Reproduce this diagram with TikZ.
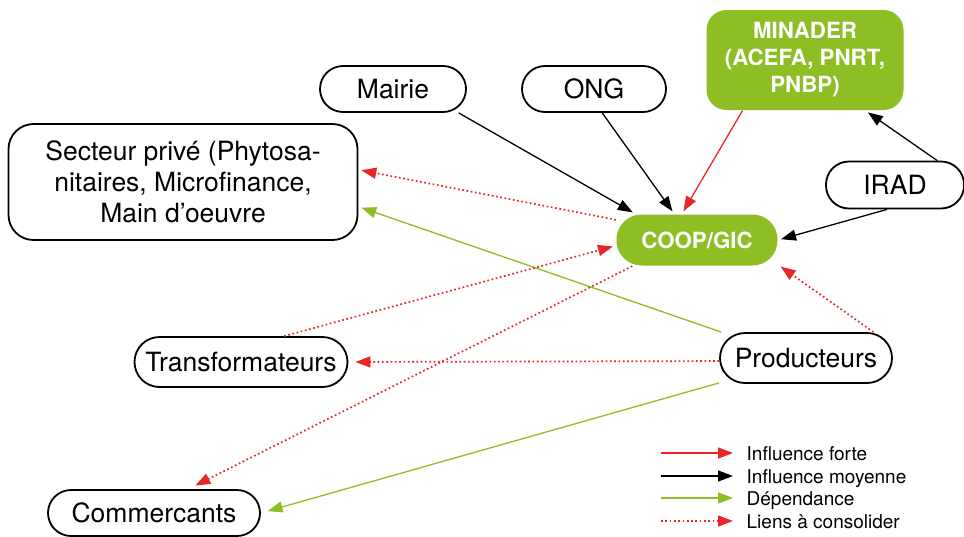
\documentclass[tikz,border=0pt]{standalone}
\usepackage{fontspec}
\setmainfont{TeX Gyre Heros}
\usetikzlibrary{arrows.meta,positioning}
\definecolor{vert}{RGB}{141,190,36}
\definecolor{rouge}{RGB}{232,38,40}

\begin{document}
\begin{tikzpicture}[x=1pt,y=-1pt,line width=1.3pt,shorten >=3pt,
    >={Triangle[length=15pt,width=11pt]}]
    \tikzstyle{acteur}=[draw, line width=1.8pt, rounded corners=23pt, minimum height=46pt, inner sep=0pt, font=\fontsize{26.5}{31}\selectfont]
    \tikzstyle{pilier}=[fill=vert, text=white, inner sep=0pt, align=center, font=\fontsize{22.3}{27}\selectfont\bfseries]
    \tikzstyle{forte}=[->, draw=rouge]
    \tikzstyle{moyenne}=[->, draw=black]
    \tikzstyle{dep}=[->, draw=vert]
    \tikzstyle{liens}=[->, draw=rouge, line width=1.7pt, dash pattern=on 1.7pt off 2.6pt]
    \tikzstyle{legende}=[anchor=west, inner sep=0pt, text height=14pt, text depth=0pt, font=\fontsize{19}{23}\selectfont]

    \useasboundingbox (0,0) rectangle (964,536);

    % acteurs
    \node[acteur, minimum width=146pt] (mairie) at (393,89) {Mairie};
    \node[acteur, minimum width=144pt] (ong) at (594,89) {ONG};
    \node[pilier, rounded corners=20pt, minimum width=197pt, minimum height=100pt] (minader) at (805,60) {MINADER\\(ACEFA, PNRT,\\PNBP)};
    \node[acteur, rounded corners=25pt, minimum width=349pt, minimum height=116pt, align=center] (secteur) at (183,182) {Secteur priv\'e (Phytosa-\\nitaires, Microfinance,\\Main d’oeuvre};
    \node[acteur, minimum width=138pt, minimum height=47pt] (irad) at (895,185) {IRAD};
    \node[pilier, rounded corners=25pt, minimum width=161pt, minimum height=51pt] (coop) at (697,240) {COOP/GIC};
    \node[acteur, minimum width=213pt, minimum height=50pt, rounded corners=25pt] (trans) at (241,362) {Transformateurs};
    \node[acteur, minimum width=172pt, minimum height=50pt, rounded corners=25pt] (prod) at (806,358) {Producteurs};
    \node[acteur, minimum width=212pt] (comm) at (154,513) {Commercants};

    % liens
    \path (mairie.-20) edge[moyenne] (coop.157);
    \path (ong.-71) edge[moyenne] (coop.131);
    \path (minader.-141) edge[forte] (coop.120);
    \path (irad.30) edge[moyenne] (minader.-40);
    \path (irad.-108) edge[moyenne] (coop.east);
    \path (coop.166) edge[liens] (secteur.4);
    \path (prod.163) edge[dep] (secteur.-8);
    \path (trans.31) edge[liens] (coop.184);
    \path (coop.-158) edge[liens, shorten >=8pt] (comm.35);
    \path (prod.182) edge[liens, shorten >=7pt] (trans.east);
    \path (prod.196) edge[dep, shorten >=7pt] (comm.east);
    \path (prod.21) edge[liens] (coop.-17);

    % legende
    \coordinate (l1) at (661,453);
    \coordinate (l2) at (661,476);
    \coordinate (l3) at (661,498);
    \coordinate (l4) at (661,521);
    \node[legende] (t1) at (746,453) {Influence forte};
    \node[legende] (t2) at (746,476) {Influence moyenne};
    \node[legende] (t3) at (746,498) {D\'ependance};
    \node[legende] (t4) at (746,521) {Liens \`a consolider};
    \draw[forte, shorten >=13pt] (l1) -- (t1.west);
    \draw[moyenne, shorten >=13pt] (l2) -- (t2.west);
    \draw[dep, shorten >=13pt] (l3) -- (t3.west);
    \draw[liens, shorten >=13pt] (l4) -- (t4.west);
\end{tikzpicture}
\end{document}
